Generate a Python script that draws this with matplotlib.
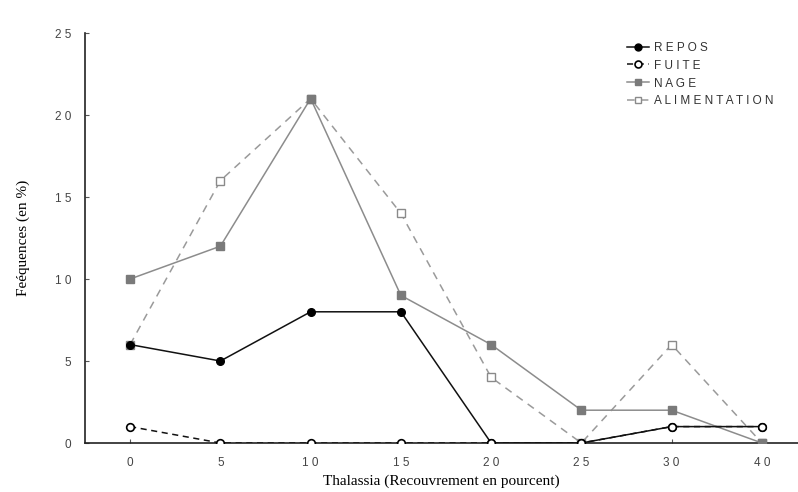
import matplotlib
matplotlib.use("Agg")
import matplotlib.pyplot as plt

categories = ["0", "5", "10", "15", "20", "25", "30", "40"]
repos = [6, 5, 8, 8, 0, 0, 1, 1]
fuite = [1, 0, 0, 0, 0, 0, 1, 1]
nage = [10, 12, 21, 9, 6, 2, 2, 0]
alimentation = [6, 16, 21, 14, 4, 0, 6, 0]
series_labels = ["REPOS", "FUITE", "NAGE", "ALIMENTATION"]
y_ticks = [0, 5, 10, 15, 20, 25]

def spaced(s):
    return " ".join(list(s))

fig = plt.figure(figsize=(7.98, 4.92), dpi=100)
ax = fig.add_axes([85/798, 1 - 443/492, 1 - 85/798, (443 - 33)/492])

x = list(range(len(categories)))

ax.plot(x, alimentation, color="#9a9a9a", lw=1.1, ls=(0, (5, 4)), marker="s",
        ms=5.5, mfc="white", mec="#8a8a8a", mew=1.0, label=spaced(series_labels[3]), zorder=2)
ax.plot(x, nage, color="#8c8c8c", lw=1.1, ls="-", marker="s",
        ms=5.5, mfc="#7a7a7a", mec="#7a7a7a", label=spaced(series_labels[2]), zorder=3)
ax.plot(x, repos, color="#111111", lw=1.1, ls="-", marker="o",
        ms=5.5, mfc="black", mec="black", label=spaced(series_labels[0]), zorder=4)
ax.plot(x, fuite, color="#111111", lw=1.1, ls=(0, (4, 3)), marker="o",
        ms=5.5, mfc="white", mec="black", mew=1.2, label=spaced(series_labels[1]), zorder=5)

ax.set_xlim(-0.5, 7.4)
ax.set_ylim(0, 25)
ax.set_xticks(x)
ax.set_xticklabels([spaced(c) for c in categories])
ax.set_yticks(y_ticks)
ax.set_yticklabels([spaced(str(v)) for v in y_ticks])

for s in ["top", "right"]:
    ax.spines[s].set_visible(False)
for s in ["left", "bottom"]:
    ax.spines[s].set_color("#222222")
    ax.spines[s].set_linewidth(1.2)

ax.tick_params(axis="both", direction="in", length=3, color="#555555",
               labelcolor="#444444", labelsize=8.5, pad=10)
for lab in ax.get_xticklabels() + ax.get_yticklabels():
    lab.set_family("Liberation Sans")

ax.set_xlabel("Thalassia (Recouvrement en pourcent)", family="Liberation Serif",
              fontsize=11, labelpad=4)
ax.set_ylabel("Feéquences (en %)", family="Liberation Serif", fontsize=11, labelpad=18)

handles, labels = ax.get_legend_handles_labels()
order = [2, 3, 1, 0]
leg = ax.legend([handles[i] for i in order], [labels[i] for i in order],
                loc="upper left", frameon=False,
                handlelength=1.9, handletextpad=0.45, labelspacing=0.5,
                prop={"family": "Liberation Sans", "size": 8.5}, borderaxespad=0)
leg.set_bbox_to_anchor((622/798, 1 - 37/492), transform=fig.transFigure)
for t in leg.get_texts():
    t.set_color("#333333")
for h in leg.legend_handles:
    h.set_markersize(5)

fig.savefig("out.png", dpi=100, facecolor="white")
